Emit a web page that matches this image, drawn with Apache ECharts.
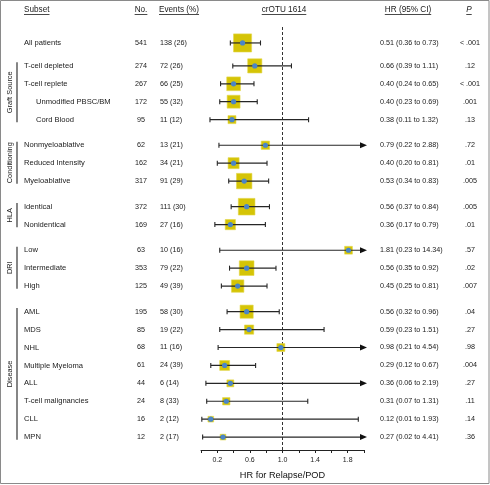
<!DOCTYPE html>
<html><head><meta charset="utf-8">
<script src="https://cdn.jsdelivr.net/npm/echarts@6/dist/echarts.min.js"></script>
<style>html,body{margin:0;padding:0;background:#fff}#c{width:490px;height:485px}</style>
</head><body><div id="c"></div>
<script>
// ---------------- DATA ----------------
const subsets = ['All patients','T-cell depleted','T-cell replete','Unmodified PBSC/BM','Cord Blood',
  'Nonmyeloablative','Reduced Intensity','Myeloablative','Identical','Nonidentical',
  'Low','Intermediate','High','AML','MDS','NHL','Multiple Myeloma','ALL','T-cell malignancies','CLL','MPN'];
const subsetLevel = [0,0,0,1,1, 0,0,0, 0,0, 0,0,0, 0,0,0,0,0,0,0,0];
const groupOf = ['', 'Graft Source','Graft Source','Graft Source','Graft Source',
  'Conditioning','Conditioning','Conditioning','HLA','HLA','DRI','DRI','DRI',
  'Disease','Disease','Disease','Disease','Disease','Disease','Disease','Disease'];
const nPatients = [541,274,267,172,95,62,162,317,372,169,63,353,125,195,85,68,61,44,24,16,12];
const events    = [138,72,66,55,11,13,34,91,111,27,10,79,49,58,19,11,24,6,8,2,2];
const eventPct  = [26,26,25,32,12,21,21,29,30,16,16,22,39,30,22,16,39,14,33,12,17];
const hr = [0.51,0.66,0.40,0.40,0.38,0.79,0.40,0.53,0.56,0.36,1.81,0.56,0.45,0.56,0.59,0.98,0.29,0.36,0.31,0.12,0.27];
const ciLow = [0.36,0.39,0.24,0.23,0.11,0.22,0.20,0.34,0.37,0.17,0.23,0.35,0.25,0.32,0.23,0.21,0.12,0.06,0.07,0.01,0.02];
const ciHigh = [0.73,1.11,0.65,0.69,1.32,2.88,0.81,0.83,0.84,0.79,14.34,0.92,0.81,0.96,1.51,4.54,0.67,2.19,1.31,1.93,4.41];
const pValues = ['< .001','.12','< .001','.001','.13','.72','.01','.005','.005','.01','.57','.02','.007','.04','.27','.98','.004','.27','.11','.14','.36'];
const xTickLabels = ['0.2','0.6','1.0','1.4','1.8'];
const refHR = 1.0;
const xAxisTitle = 'HR for Relapse/POD';
const headerTexts = ['Subset','No.','Events (%)','crOTU 1614','HR (95% CI)','P'];

// ---------------- LAYOUT ----------------
const FONT = "'Liberation Sans', Arial, Helvetica, sans-serif";
const TXT = '#1a1a1a';
const X_MIN = 0, X_MAX = 2.0;
const Y_MIN = -0.89, Y_MAX = 22.72;
const rowPos = [];
let gIdx = -1, prevG = null;
subsets.forEach((s, i) => {
  if (i === 0 || groupOf[i] !== prevG) { gIdx++; prevG = groupOf[i]; }
  const extra = gIdx === 0 ? 0 : 0.28 + (gIdx - 1) * 0.43;
  rowPos.push(i + extra);
});
const groupSpans = [];
groupOf.forEach((g, i) => {
  if (!g) return;
  const last = groupSpans[groupSpans.length - 1];
  if (last && last.name === g) last.end = rowPos[i];
  else groupSpans.push({ name: g, start: rowPos[i], end: rowPos[i] });
});

const fmt2 = v => v.toFixed(2);
const mctx = document.createElement('canvas').getContext('2d');
function textW(t, font) { mctx.font = font; return mctx.measureText(t).width; }

const hdrFont = '8.2px ' + FONT;
const hdrDefs = [
  { t: headerTexts[0], x: 24, align: 'left' },
  { t: headerTexts[1], x: 141, align: 'center' },
  { t: headerTexts[2], x: 159, align: 'left' },
  { t: headerTexts[3], x: 284, align: 'center' },
  { t: headerTexts[4], x: 408, align: 'center' },
  { t: headerTexts[5], x: 469, align: 'center', italic: true }
];
const graphics = [{
  type: 'rect', shape: { x: 0.5, y: 0.5, width: 488.5, height: 483 },
  style: { fill: 'none', stroke: '#8a8a8a', lineWidth: 1 }, silent: true
}];
hdrDefs.forEach(h => {
  const font = (h.italic ? 'italic ' : '') + hdrFont;
  const w = textW(h.t, font);
  const x0 = h.align === 'left' ? h.x : h.x - w / 2;
  graphics.push({ type: 'text', x: h.x, y: 10,
    style: { text: h.t, font: font, fill: TXT, align: h.align, verticalAlign: 'middle' } });
  graphics.push({ type: 'line', shape: { x1: x0, y1: 14.5, x2: x0 + w, y2: 14.5 },
    style: { stroke: TXT, lineWidth: 0.8 } });
});

const chart = echarts.init(document.getElementById('c'), null, { renderer: 'canvas' });

const option = {
  animation: false,
  backgroundColor: '#fff',
  grid: { left: 201, right: 126, top: 27, bottom: 33 },
  xAxis: {
    type: 'value', min: X_MIN, max: X_MAX, interval: 0.2,
    axisLine: { show: true, onZero: false, lineStyle: { color: '#222', width: 1 } },
    axisTick: { show: true, length: 3, lineStyle: { color: '#222', width: 1 } },
    splitLine: { show: false },
    axisLabel: {
      formatter: v => xTickLabels.find(t => Math.abs(parseFloat(t) - v) < 1e-6) || '',
      fontSize: 7, color: '#222', margin: 7, fontFamily: FONT, showMinLabel: true, showMaxLabel: true
    },
    name: xAxisTitle, nameLocation: 'middle', nameGap: 21,
    nameTextStyle: { fontSize: 9.2, color: '#111', fontFamily: FONT }
  },
  yAxis: { type: 'value', min: Y_MIN, max: Y_MAX, inverse: true, show: false },
  graphic: graphics,
  series: [
    {
      type: 'line', data: [[refHR, Y_MIN], [refHR, Y_MAX]], symbol: 'none', silent: true,
      lineStyle: { color: '#333', width: 1, type: [3, 2] }, z: 1
    },
    {
      type: 'custom', z: 3, clip: false,
      data: subsets.map((s, i) => [hr[i], rowPos[i], ciLow[i], ciHigh[i], events[i]]),
      renderItem(params, api) {
        const h = api.value(0), p = api.value(1), lo = api.value(2), hi = api.value(3), ev = api.value(4);
        const c = api.coord([h, p]);
        const y = c[1];
        const xLo = api.coord([lo, p])[0];
        const capped = hi > X_MAX;
        const xHi = api.coord([Math.min(hi, X_MAX), p])[0];
        const s = 4 + 1.2 * Math.sqrt(ev);
        const lineCol = '#262626';
        const kids = [
          { type: 'rect', shape: { x: c[0] - s / 2, y: y - s / 2, width: s, height: s },
            style: { fill: '#d5c406', stroke: '#e2d64a', lineWidth: 0.6 } },
          { type: 'line', shape: { x1: xLo, y1: y, x2: capped ? xHi - 3 : xHi, y2: y },
            style: { stroke: lineCol, lineWidth: 1.2 } },
          { type: 'line', shape: { x1: xLo, y1: y - 2.5, x2: xLo, y2: y + 2.5 },
            style: { stroke: lineCol, lineWidth: 1.1 } }
        ];
        if (capped) {
          kids.push({ type: 'polygon', shape: { points: [[xHi - 4, y - 3], [xHi + 3, y], [xHi - 4, y + 3]] },
            style: { fill: '#111' } });
        } else {
          kids.push({ type: 'line', shape: { x1: xHi, y1: y - 2.5, x2: xHi, y2: y + 2.5 },
            style: { stroke: lineCol, lineWidth: 1.1 } });
        }
        kids.push({ type: 'circle', shape: { cx: c[0], cy: y, r: 2.6 }, style: { fill: '#4a85c8' } });
        return { type: 'group', children: kids };
      }
    },
    {
      type: 'custom', z: 4, clip: false, silent: true,
      data: subsets.map((s, i) => [0, rowPos[i]]),
      renderItem(params, api) {
        const i = params.dataIndex;
        const y = api.coord([0, api.value(1)])[1];
        const lf = '7.6px ' + FONT, nf = '7.2px ' + FONT;
        const t = (text, x, align, font) => ({ type: 'text',
          style: { text, x, y, font, fill: TXT, align, verticalAlign: 'middle' } });
        return { type: 'group', children: [
          t(subsets[i], subsetLevel[i] ? 36 : 24, 'left', lf),
          t(String(nPatients[i]), 141, 'center', nf),
          t(events[i] + ' (' + eventPct[i] + ')', 160, 'left', nf),
          t(fmt2(hr[i]) + ' (' + fmt2(ciLow[i]) + ' to ' + fmt2(ciHigh[i]) + ')', 380, 'left', nf),
          t(pValues[i], 470, 'center', nf)
        ]};
      }
    },
    {
      type: 'custom', z: 4, clip: false, silent: true,
      data: groupSpans.map(g => [0, g.start, g.end]),
      renderItem(params, api) {
        const g = groupSpans[params.dataIndex];
        const y1 = api.coord([0, api.value(1) - 0.2])[1];
        const y2 = api.coord([0, api.value(2) + 0.15])[1];
        return { type: 'group', children: [
          { type: 'line', shape: { x1: 17, y1: y1, x2: 17, y2: y2 }, style: { stroke: '#222', lineWidth: 1.1 } },
          { type: 'text', x: 10, y: (y1 + y2) / 2, rotation: Math.PI / 2,
            style: { text: g.name, x: 0, y: 0, font: '7.4px ' + FONT, fill: TXT, align: 'center', verticalAlign: 'middle' } }
        ]};
      }
    }
  ]
};
chart.setOption(option);
</script></body></html>
